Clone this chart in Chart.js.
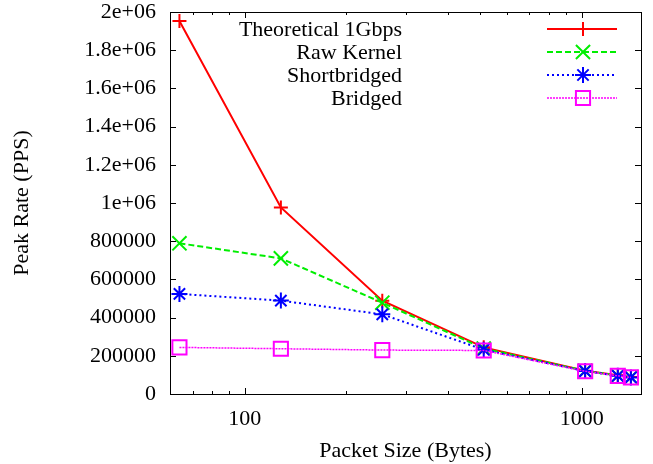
<!DOCTYPE html>
<html>
<head>
<meta charset="utf-8">
<script src="https://cdn.jsdelivr.net/npm/chart.js@4.4.1/dist/chart.umd.min.js"></script>
<style>
html, body { margin: 0; padding: 0; background: #fff; }
#wrap { width: 653px; height: 464px; }
</style>
</head>
<body>
<div id="wrap"><canvas id="peakChart" width="653" height="464"></canvas></div>
<script>
// data
var packetSizes  = [64, 128, 256, 512, 1024, 1280, 1400];
var theoretical  = [1953125, 976563, 488281, 244141, 122070, 97656, 89286];
var rawKernel    = [789000, 710000, 478000, 238000, 121000, 96000, 88000];
var shortbridged = [524000, 489000, 417000, 232000, 120000, 95000, 87000];
var bridged      = [244000, 237000, 230000, 228000, 119000, 95000, 87000];
var seriesNames  = ["Theoretical 1Gbps", "Raw Kernel", "Shortbridged", "Bridged"];

var xTicks      = [70, 80, 90, 100, 200, 300, 400, 500, 600, 700, 800, 900, 1000];
var xTickLabels = ["100", "1000"];
var yTickLabels = ["0", "200000", "400000", "600000", "800000", "1e+06",
                   "1.2e+06", "1.4e+06", "1.6e+06", "1.8e+06", "2e+06"];

var FONT = "'Liberation Serif', 'DejaVu Serif', serif";

function pts(vals)
{
	var out = [];
	for (var i = 0; i < packetSizes.length; i++) {
		out.push({x: packetSizes[i], y: vals[i]});
	}
	return out;
}

function makeSet(label, vals, color, dash, width, style, radius, order)
{
	return {
		label: label,
		data: pts(vals),
		borderColor: color,
		backgroundColor: "rgba(0,0,0,0)",
		borderWidth: width,
		borderDash: dash,
		pointStyle: style,
		pointRadius: radius,
		pointBorderColor: color,
		pointBackgroundColor: "rgba(0,0,0,0)",
		pointBorderWidth: 2,
		tension: 0,
		fill: false,
		order: order
	};
}

// gnuplot style frame with inward ticks on all four sides
var frameTicks = {
	id: "frameTicks",
	afterDraw: function(chart) {
		var ctx = chart.ctx, a = chart.chartArea;
		var xs = chart.scales.x, ys = chart.scales.y;
		ctx.save();
		ctx.strokeStyle = "#000";
		ctx.lineWidth = 1;
		ctx.beginPath();
		ys.ticks.forEach(function(t) {
			var py = Math.round(ys.getPixelForValue(t.value)) + 0.5;
			ctx.moveTo(a.left, py); ctx.lineTo(a.left + 6, py);
			ctx.moveTo(a.right, py); ctx.lineTo(a.right - 6, py);
		});
		xs.ticks.forEach(function(t) {
			var px = Math.round(xs.getPixelForValue(t.value)) + 0.5;
			var major = xTickLabels.indexOf(String(t.value)) >= 0;
			var len = major ? 6 : 3;
			ctx.moveTo(px, a.bottom); ctx.lineTo(px, a.bottom - len);
			ctx.moveTo(px, a.top); ctx.lineTo(px, a.top + len);
		});
		ctx.stroke();
		ctx.strokeRect(Math.round(a.left) + 0.5, Math.round(a.top) + 0.5,
			Math.round(a.right - a.left), Math.round(a.bottom - a.top));
		ctx.restore();
	}
};

// legend: text right-aligned, sample on the right like gnuplot
var gnuLegend = {
	id: "gnuLegend",
	afterDraw: function(chart) {
		var ctx = chart.ctx;
		var textRight = 402, lineL = 547, lineR = 617, mark = 583;
		ctx.save();
		ctx.font = "22px " + FONT;
		ctx.textAlign = "right";
		ctx.textBaseline = "middle";
		chart.data.datasets.forEach(function(ds, i) {
			var y = 29 + i * 23;
			ctx.fillStyle = "#000";
			ctx.fillText(ds.label, textRight, y + 1);
			ctx.strokeStyle = ds.borderColor;
			ctx.lineWidth = ds.borderWidth;
			ctx.setLineDash(ds.borderDash);
			ctx.beginPath();
			ctx.moveTo(lineL, y); ctx.lineTo(lineR, y);
			ctx.stroke();
			ctx.setLineDash([]);
			ctx.lineWidth = 2;
			ctx.fillStyle = "rgba(0,0,0,0)";
			Chart.helpers.drawPoint(ctx, {pointStyle: ds.pointStyle, radius: ds.pointRadius,
				rotation: 0, borderWidth: 2}, mark, y);
		});
		ctx.restore();
	}
};

new Chart("peakChart", {
	type: "line",
	data: {
		datasets: [
			makeSet(seriesNames[0], theoretical, "#ff0000", [], 2, "cross", 7, 3),
			makeSet(seriesNames[1], rawKernel, "#00ee00", [6, 3], 2, "crossRot", 10, 2),
			makeSet(seriesNames[2], shortbridged, "#0000ff", [2, 3], 2, "star", 8, 1),
			makeSet(seriesNames[3], bridged, "#ff00ff", [2, 1], 1.5, "rect", 10, 0)
		]
	},
	options: {
		responsive: false,
		animation: false,
		devicePixelRatio: 1,
		layout: { padding: { left: 0, right: 10, top: 12, bottom: 0 } },
		plugins: {
			legend: { display: false },
			tooltip: { enabled: false }
		},
		scales: {
			x: {
				type: "logarithmic",
				min: 60,
				max: 1500,
				grid: { display: false, drawTicks: false },
				border: { display: false },
				afterBuildTicks: function(scale) {
					scale.ticks = xTicks.map(function(v) { return {value: v}; });
				},
				afterFit: function(scale) {
					scale.height = 70;
					scale.paddingLeft = 0;
					scale.paddingRight = 0;
				},
				ticks: {
					autoSkip: false,
					maxRotation: 0,
					padding: 12,
					color: "#000",
					font: { family: FONT, size: 22 },
					callback: function(v) {
						return xTickLabels.indexOf(String(v)) >= 0 ? String(v) : "";
					}
				},
				title: {
					display: true,
					text: "Packet Size (Bytes)",
					color: "#000",
					font: { family: FONT, size: 22 },
					padding: { top: 0, bottom: 0 }
				}
			},
			y: {
				min: 0,
				max: 2000000,
				grid: { display: false, drawTicks: false },
				border: { display: false },
				afterFit: function(scale) {
					scale.width = 170;
					scale.paddingTop = 0;
					scale.paddingBottom = 0;
				},
				ticks: {
					stepSize: 200000,
					padding: 14,
					color: "#000",
					font: { family: FONT, size: 22 },
					callback: function(v, i) { return yTickLabels[i]; }
				},
				title: {
					display: true,
					text: "Peak Rate (PPS)",
					color: "#000",
					font: { family: FONT, size: 22 },
					padding: { top: 9, bottom: 0 }
				}
			}
		}
	},
	plugins: [frameTicks, gnuLegend]
});
</script>
</body>
</html>
